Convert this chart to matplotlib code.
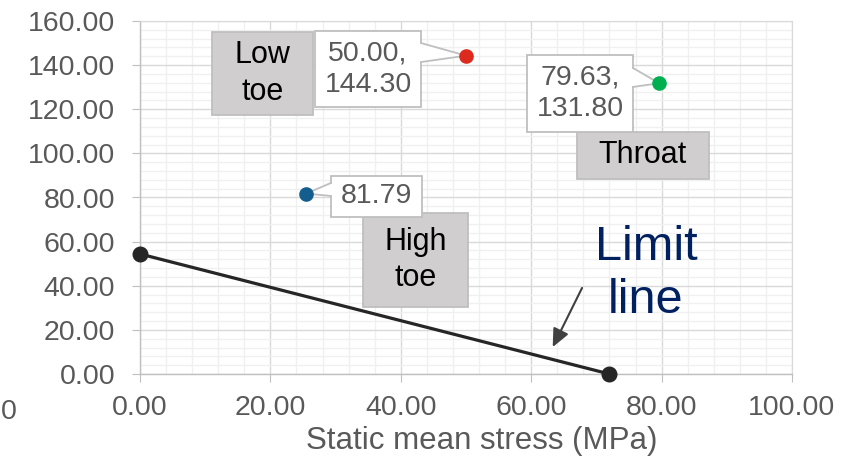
import matplotlib
matplotlib.use('Agg')
import matplotlib.pyplot as plt
from matplotlib.patches import Rectangle, Polygon
from matplotlib.ticker import MultipleLocator, FormatStrFormatter

plt.rcParams['font.family'] = ['Liberation Sans', 'DejaVu Sans']

# data
limit_x = [0.0, 72.0]
limit_y = [54.4, 0.0]

point_names = ['Low\ntoe', 'Throat', 'High\ntoe']
point_x = [50.00, 79.63, 25.5]
point_y = [144.30, 131.80, 81.79]
point_colors = ['#DC2B1E', '#00B050', '#135E8E']

value_labels = [f"{point_x[0]:.2f},\n{point_y[0]:.2f}",
                f"{point_x[1]:.2f},\n{point_y[1]:.2f}",
                f"{point_y[2]:.2f}"]

grey_txt = '#595959'
edge = '#BFBFBF'

fig = plt.figure(figsize=(8.54, 4.65), dpi=100)
ax = fig.add_axes([140 / 854, 91 / 465, 652 / 854, 353 / 465])

ax.set_xlim(0, 100)
ax.set_ylim(0, 160)
ax.xaxis.set_major_locator(MultipleLocator(20))
ax.xaxis.set_minor_locator(MultipleLocator(4))
ax.yaxis.set_major_locator(MultipleLocator(20))
ax.yaxis.set_minor_locator(MultipleLocator(4))
ax.xaxis.set_major_formatter(FormatStrFormatter('%.2f'))
ax.yaxis.set_major_formatter(FormatStrFormatter('%.2f'))

ax.set_axisbelow(True)
ax.grid(which='minor', color='#F0F0F0', lw=1.0)
ax.grid(which='major', color='#D9D9D9', lw=1.0)

ax.tick_params(which='major', length=5.8, width=0.8, color=edge,
               labelsize=20.5, labelcolor=grey_txt)
ax.tick_params(axis='y', which='major', pad=12)
ax.tick_params(axis='x', which='major', pad=9)
ax.tick_params(which='minor', length=0)

for side in ['top', 'right']:
    ax.spines[side].set_color('#D9D9D9')
for side in ['left', 'bottom']:
    ax.spines[side].set_color(edge)
    ax.spines[side].set_linewidth(1.0)

ax.set_xlabel('Static mean stress (MPa)', fontsize=22.5, color=grey_txt)
ax.xaxis.set_label_coords((482 - 140) / 652, -0.148)

# limit line
ax.plot(limit_x, limit_y, color='#262626', lw=2.3, marker='o', ms=10.5,
        zorder=5, clip_on=False)

# points
for x, y, c in zip(point_x, point_y, point_colors):
    ax.plot(x, y, 'o', color=c, ms=9.5, zorder=7, clip_on=False)


def label_box(x0, x1, y0, y1, text, face, color, size, z):
    ax.add_patch(Rectangle((x0, y0), x1 - x0, y1 - y0, fc=face, ec=edge,
                           lw=1.3, zorder=z))
    ax.text((x0 + x1) / 2, (y0 + y1) / 2, text, ha='center', va='center',
            fontsize=size, color=color, zorder=z + 0.1, linespacing=1.28)


def pointer(bx, by0, by1, tip, inward, z):
    ax.add_patch(Polygon([(bx + inward, by0), (bx + inward, by1), tip],
                         closed=True, fc='white', ec='none', zorder=z))
    for by in (by0, by1):
        ax.plot([bx, tip[0]], [by, tip[1]], color=edge, lw=1.3, zorder=z)


# grey name boxes
label_box(11.04, 26.53, 117.4, 155.0, point_names[0], '#D0CECE', 'black', 22, 4)
label_box(67.02, 87.27, 88.4, 109.7, point_names[1], '#D0CECE', 'black', 22, 4)
label_box(34.2, 50.3, 30.4, 73.0, point_names[2], '#D0CECE', 'black', 22, 4)

# value callouts
label_box(26.84, 43.10, 121.0, 155.5, value_labels[0], 'white', grey_txt, 20.5, 5)
pointer(43.10, 150.0, 141.4, (point_x[0], point_y[0]), -0.3, 5.5)
label_box(59.36, 75.61, 109.7, 144.6, value_labels[1], 'white', grey_txt, 20.5, 5)
pointer(75.61, 138.7, 130.1, (point_x[1], point_y[1]), -0.3, 5.5)
label_box(29.29, 43.25, 71.2, 89.75, value_labels[2], 'white', grey_txt, 20.5, 5)
pointer(29.29, 86.6, 80.7, (point_x[2], point_y[2]), 0.3, 5.5)

# limit line note
ax.text(77.6, 45.3, 'Limit\nline', color='#002060', fontsize=35,
        ha='center', va='center', linespacing=1.25, zorder=6)
ax.annotate('', xy=(63.3, 12.2), xytext=(67.8, 39.0),
            arrowprops=dict(arrowstyle='-|>,head_length=1.1,head_width=0.5',
                            color='#404040', lw=1.5, shrinkA=0, shrinkB=0),
            zorder=6)

# label fragment at the far left edge
fig.text(0.5 / 854, (465 - 419) / 465, '0', fontsize=20.5, color=grey_txt,
         ha='left', va='baseline')

fig.savefig('out.png', dpi=100)
